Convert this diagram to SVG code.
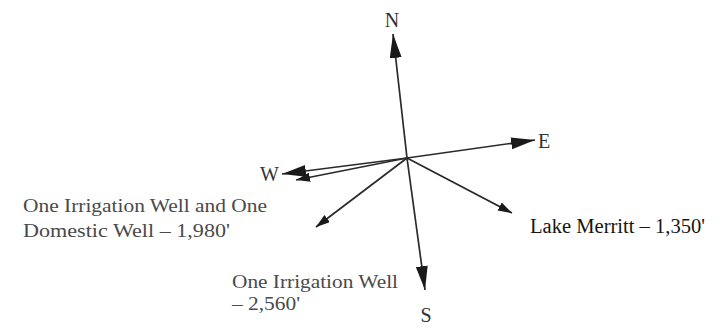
<svg xmlns="http://www.w3.org/2000/svg" width="719" height="329" viewBox="0 0 719 329">
  <defs>
    <style>
      .ln { stroke: #2a2a2a; stroke-width: 1.7; fill: none; }
      .dir { font-family: "Liberation Serif", "Times New Roman", serif; font-size: 20px; fill: #333; }
      .lbl { font-family: "Liberation Serif", "Times New Roman", serif; font-size: 19px; fill: #4a4a4a; }
      .lbl2 { font-family: "Liberation Serif", "Times New Roman", serif; font-size: 20px; fill: #151515; }
    </style>
    <marker id="big" markerUnits="userSpaceOnUse" markerWidth="26" markerHeight="14" refX="24" refY="6" orient="auto">
      <path d="M0,0 L24,6 L0,12 Z" fill="#1a1a1a"/>
    </marker>
    <marker id="small" markerUnits="userSpaceOnUse" markerWidth="16" markerHeight="10" refX="14" refY="4.5" orient="auto">
      <path d="M0,0 L14,4.5 L0,9 Z" fill="#1a1a1a"/>
    </marker>
  </defs>
  <rect width="719" height="329" fill="#ffffff"/>

  <g id="connectors">
    <line class="ln" x1="407" y1="158" x2="393" y2="34" marker-end="url(#big)"/>
    <line class="ln" x1="407" y1="158" x2="535" y2="140" marker-end="url(#big)"/>
    <line class="ln" x1="407" y1="158" x2="282" y2="174" marker-end="url(#big)"/>
    <line class="ln" x1="407" y1="158" x2="296" y2="180" marker-end="url(#small)"/>
    <line class="ln" x1="407" y1="158" x2="316" y2="227" marker-end="url(#small)"/>
    <line class="ln" x1="407" y1="158" x2="425" y2="290" marker-end="url(#big)"/>
    <line class="ln" x1="407" y1="158" x2="512" y2="213" marker-end="url(#small)"/>
  </g>

  <g id="north"><text class="dir" x="392" y="27" text-anchor="middle">N</text></g>
  <g id="east"><text class="dir" x="538" y="148">E</text></g>
  <g id="west"><text class="dir" x="260" y="181">W</text></g>
  <g id="south"><text class="dir" x="426" y="322" text-anchor="middle">S</text></g>

  <g id="well-1980">
    <text class="lbl" x="23" y="212" textLength="244" lengthAdjust="spacingAndGlyphs">One Irrigation Well and One</text>
    <text class="lbl" x="23" y="237" textLength="207" lengthAdjust="spacingAndGlyphs">Domestic Well – 1,980'</text>
  </g>
  <g id="well-2560">
    <text class="lbl" x="232" y="288" textLength="166" lengthAdjust="spacingAndGlyphs">One Irrigation Well</text>
    <text class="lbl" x="232" y="310" textLength="68" lengthAdjust="spacingAndGlyphs">– 2,560'</text>
  </g>
  <g id="lake-merritt">
    <text class="lbl2" x="530" y="233" textLength="175" lengthAdjust="spacingAndGlyphs">Lake Merritt – 1,350'</text>
  </g>
</svg>
